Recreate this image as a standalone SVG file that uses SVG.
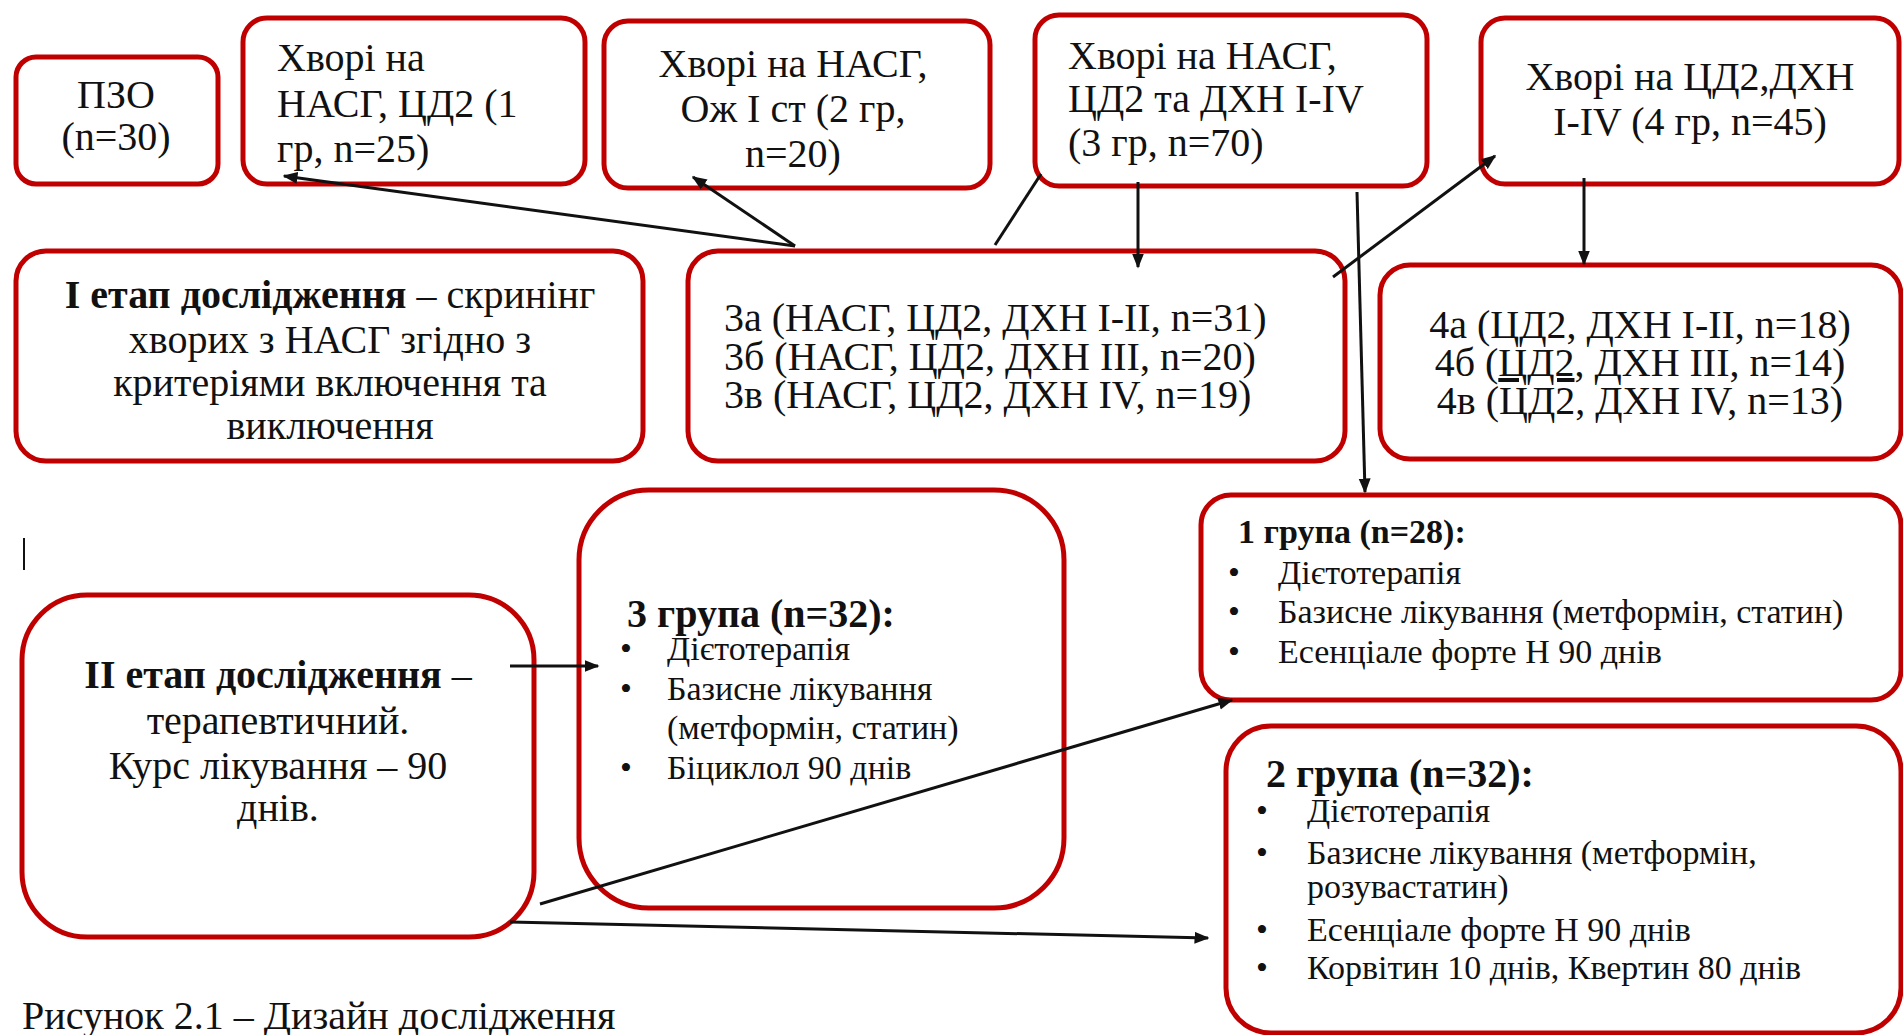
<svg xmlns="http://www.w3.org/2000/svg" width="1903" height="1035" viewBox="0 0 1903 1035">
<style>
.box{fill:#fff;stroke:#c00000;stroke-width:5}
text{font-family:"Liberation Serif","Times New Roman",serif;fill:#111}
.t40{font-size:40px}
.t34{font-size:34px}
.b{font-weight:bold}
.mid{text-anchor:middle}
.ln{stroke:#111;stroke-width:3;fill:none}
</style>
<defs>
<marker id="ah" viewBox="0 0 10 10" refX="9" refY="5" markerWidth="5" markerHeight="5" orient="auto" markerUnits="strokeWidth">
<path d="M0,1 L10,5 L0,9 z" fill="#111"/>
</marker>
</defs>
<rect width="1903" height="1035" fill="#fff"/>

<g id="n-pzo">
<rect class="box" x="16" y="57" width="202" height="127" rx="20"/>
<text class="t40 mid" x="116" y="108">ПЗО</text>
<text class="t40 mid" x="116" y="150">(n=30)</text>
</g>

<g id="n-gr1">
<rect class="box" x="243" y="18" width="342" height="166" rx="24"/>
<text class="t40" x="277" y="71">Хворі на</text>
<text class="t40" x="277" y="117">НАСГ, ЦД2 (1</text>
<text class="t40" x="277" y="162">гр, n=25)</text>
</g>

<g id="n-gr2">
<rect class="box" x="604" y="21" width="386" height="167" rx="24"/>
<text class="t40 mid" x="793" y="77">Хворі на НАСГ,</text>
<text class="t40 mid" x="793" y="122">Ож I ст (2 гр,</text>
<text class="t40 mid" x="793" y="167">n=20)</text>
</g>

<g id="n-gr3">
<rect class="box" x="1035" y="15" width="392" height="171" rx="24"/>
<text class="t40" x="1068" y="69">Хворі на НАСГ,</text>
<text class="t40" x="1068" y="112">ЦД2 та ДХН I-IV</text>
<text class="t40" x="1068" y="156">(3 гр, n=70)</text>
</g>

<g id="n-gr4">
<rect class="box" x="1481" y="18" width="418" height="166" rx="24"/>
<text class="t40 mid" x="1690" y="90">Хворі на ЦД2,ДХН</text>
<text class="t40 mid" x="1690" y="135">I-IV (4 гр, n=45)</text>
</g>

<g id="n-stage1">
<rect class="box" x="16" y="251" width="627" height="210" rx="30"/>
<text class="t40 mid" x="330" y="308"><tspan class="b">I етап дослідження</tspan> – скринінг</text>
<text class="t40 mid" x="330" y="353">хворих з НАСГ згідно з</text>
<text class="t40 mid" x="330" y="396">критеріями включення та</text>
<text class="t40 mid" x="330" y="439">виключення</text>
</g>

<g id="n-sub3">
<rect class="box" x="688" y="251" width="657" height="210" rx="30"/>
<text class="t40" x="724" y="331">3а (НАСГ, ЦД2, ДХН I-II, n=31)</text>
<text class="t40" x="724" y="370">3б (НАСГ, ЦД2, ДХН III, n=20)</text>
<text class="t40" x="724" y="408">3в (НАСГ, ЦД2, ДХН IV, n=19)</text>
</g>

<g id="n-sub4">
<rect class="box" x="1380" y="265" width="521" height="194" rx="30"/>
<text class="t40 mid" x="1640" y="338">4а (ЦД2, ДХН I-II, n=18)</text>
<text class="t40 mid" x="1640" y="376">4б (<tspan text-decoration="underline">ЦД2</tspan>, ДХН III, n=14)</text>
<text class="t40 mid" x="1640" y="414">4в (ЦД2, ДХН IV, n=13)</text>
</g>

<g id="n-group3">
<rect class="box" x="579" y="490" width="485" height="418" rx="70"/>
<text class="t40 b" x="627" y="627">3 група (n=32):</text>
<text class="t34" x="620" y="660">•</text><text class="t34" x="667" y="660">Дієтотерапія</text>
<text class="t34" x="620" y="700">•</text><text class="t34" x="667" y="700">Базисне лікування</text>
<text class="t34" x="667" y="739">(метформін, статин)</text>
<text class="t34" x="620" y="779">•</text><text class="t34" x="667" y="779">Біциклол 90 днів</text>
</g>

<g id="n-stage2">
<rect class="box" x="22" y="595" width="512" height="342" rx="65"/>
<text class="t40 mid" x="278" y="688"><tspan class="b">II етап дослідження</tspan> –</text>
<text class="t40 mid" x="278" y="734">терапевтичний.</text>
<text class="t40 mid" x="278" y="779">Курс лікування – 90</text>
<text class="t40 mid" x="278" y="821">днів.</text>
</g>

<g id="n-group1">
<rect class="box" x="1201" y="495" width="700" height="205" rx="30"/>
<text class="t34 b" x="1238" y="543">1 група (n=28):</text>
<text class="t34" x="1228" y="584">•</text><text class="t34" x="1278" y="584">Дієтотерапія</text>
<text class="t34" x="1228" y="623">•</text><text class="t34" x="1278" y="623">Базисне лікування (метформін, статин)</text>
<text class="t34" x="1228" y="663">•</text><text class="t34" x="1278" y="663">Есенціале форте Н 90 днів</text>
</g>

<g id="n-group2">
<rect class="box" x="1226" y="726" width="675" height="307" rx="45"/>
<text class="t40 b" x="1266" y="787">2 група (n=32):</text>
<text class="t34" x="1256" y="822">•</text><text class="t34" x="1307" y="822">Дієтотерапія</text>
<text class="t34" x="1256" y="864">•</text><text class="t34" x="1307" y="864">Базисне лікування (метформін,</text>
<text class="t34" x="1307" y="898">розувастатин)</text>
<text class="t34" x="1256" y="941">•</text><text class="t34" x="1307" y="941">Есенціале форте Н 90 днів</text>
<text class="t34" x="1256" y="979">•</text><text class="t34" x="1307" y="979">Корвітин 10 днів, Квертин 80 днів</text>
</g>

<g id="connectors">
<line class="ln" x1="795" y1="246" x2="284" y2="176" marker-end="url(#ah)"/>
<line class="ln" x1="795" y1="246" x2="693" y2="177" marker-end="url(#ah)"/>
<line class="ln" x1="995" y1="245" x2="1041" y2="174"/>
<line class="ln" x1="1138" y1="182" x2="1138" y2="267" marker-end="url(#ah)"/>
<line class="ln" x1="1333" y1="277" x2="1495" y2="156" marker-end="url(#ah)"/>
<line class="ln" x1="1584" y1="178" x2="1584" y2="264" marker-end="url(#ah)"/>
<line class="ln" x1="1357" y1="192" x2="1365" y2="492" marker-end="url(#ah)"/>
<line class="ln" x1="510" y1="666" x2="598" y2="666" marker-end="url(#ah)"/>
<line class="ln" x1="540" y1="904" x2="1232" y2="700" marker-end="url(#ah)"/>
<line class="ln" x1="510" y1="922" x2="1208" y2="938" marker-end="url(#ah)"/>
</g>

<line x1="24" y1="538" x2="24" y2="570" stroke="#111" stroke-width="2"/>
<text class="t40" x="22" y="1029">Рисунок 2.1 – Дизайн дослідження</text>
</svg>
